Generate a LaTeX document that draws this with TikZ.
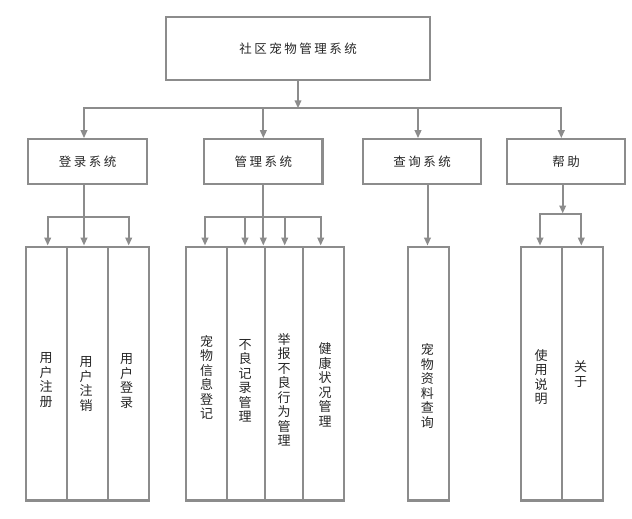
\documentclass[tikz,border=0pt]{standalone}
\usepackage{fontspec}
\newfontfamily\cjk{Noto Sans CJK SC}
\newfontfamily\cjksp[LetterSpace=20]{Noto Sans CJK SC}
\usetikzlibrary{arrows.meta}
\definecolor{lc}{HTML}{8C8C8C}
\definecolor{tc}{HTML}{262626}
\tikzset{
  box/.style={draw=lc, line width=2.2pt, rectangle, inner sep=0pt},
  ttl/.style={font=\cjksp\fontsize{12.5}{14}\selectfont, text=tc},
  vtxt/.style={font=\cjk\fontsize{13}{14.5}\selectfont, text=tc, align=center, inner sep=0pt},
  con/.style={draw=lc, line width=2pt, line cap=rect},
  arr/.style={con, -{Triangle[width=6.5pt,length=8pt]}},
}
\begin{document}
\begin{tikzpicture}[x=1pt,y=-1pt]
\useasboundingbox (0,0) rectangle (632,519);
% top
\node[box, ttl, minimum width=264.6pt, minimum height=62.7pt] (top) at (298,48.65) {社区宠物管理系统};
% level 2
\node[box, ttl, minimum width=118.3pt, minimum height=44.7pt] (l1) at (87.5,161.65) {登录系统};
\node[box, ttl, minimum width=118.3pt, minimum height=44.7pt] (l2) at (263.35,161.65) {管理系统};
\node[box, ttl, minimum width=118.3pt, minimum height=44.7pt] (l3) at (422.15,161.65) {查询系统};
\node[box, ttl, minimum width=118.3pt, minimum height=44.7pt] (l4) at (566.15,161.65) {帮助};
% level 3 boxes
\node[box, minimum width=41pt, minimum height=253.8pt] (c11) at (46.8,373.6) {};
\node[box, minimum width=40.4pt, minimum height=253.8pt] (c12) at (87.5,373.6) {};
\node[box, minimum width=41pt, minimum height=253.8pt] (c13) at (128.2,373.6) {};
\node[box, minimum width=41.3pt, minimum height=253.8pt] (c21) at (206.65,373.6) {};
\node[box, minimum width=37.7pt, minimum height=253.8pt] (c22) at (246.15,373.6) {};
\node[box, minimum width=38.3pt, minimum height=253.8pt] (c23) at (284.15,373.6) {};
\node[box, minimum width=41pt, minimum height=253.8pt] (c24) at (323.8,373.6) {};
\node[box, minimum width=41pt, minimum height=253.8pt] (c31) at (428.2,373.6) {};
\node[box, minimum width=40.7pt, minimum height=253.8pt] (c41) at (541.35,373.6) {};
\node[box, minimum width=41.6pt, minimum height=253.8pt] (c42) at (582.5,373.6) {};
% level 3 texts
\node[vtxt] (t11) at (46,380) {用\\户\\注\\册};
\node[vtxt] (t12) at (86,384) {用\\户\\注\\销};
\node[vtxt] (t13) at (126.7,381) {用\\户\\登\\录};
\node[vtxt] (t21) at (206.7,377.5) {宠\\物\\信\\息\\登\\记};
\node[vtxt] (t22) at (245,381) {不\\良\\记\\录\\管\\理};
\node[vtxt] (t23) at (284,390) {举\\报\\不\\良\\行\\为\\管\\理};
\node[vtxt] (t24) at (325,385) {健\\康\\状\\况\\管\\理};
\node[vtxt] (t31) at (427.3,386) {宠\\物\\资\\料\\查\\询};
\node[vtxt] (t41) at (541,377) {使\\用\\说\\明};
\node[vtxt] (t42) at (580.7,374) {关\\于};
% top -> level 2
\coordinate (hub) at (298,108.3);
\coordinate (b1) at (84,108.3);
\coordinate (b2) at (263.35,108.3);
\coordinate (b3) at (418,108.3);
\coordinate (b4) at (561.3,108.3);
\draw[arr] (top) -- (hub);
\draw[con] (b1) -- (b4);
\draw[arr] (b1) -- (b1 |- l1.north);
\draw[arr] (b2) -- (l2.north);
\draw[arr] (b3) -- (b3 |- l3.north);
\draw[arr] (b4) -- (b4 |- l4.north);
% login subtree
\coordinate (j1) at (84,216.7);
\coordinate (j1a) at (47.7,216.7);
\coordinate (j1b) at (128.7,216.7);
\draw[arr] (j1 |- l1.south) -- (j1 |- c12.north);
\draw[con] (j1a) -- (j1b);
\draw[arr] (j1a) -- (j1a |- c11.north);
\draw[arr] (j1b) -- (j1b |- c13.north);
% management subtree
\coordinate (j2) at (263.3,216.7);
\coordinate (j2a) at (205,216.7);
\coordinate (j2b) at (245,216.7);
\coordinate (j2c) at (284.7,216.7);
\coordinate (j2d) at (320.7,216.7);
\draw[arr] (j2 |- l2.south) -- (j2 |- c23.north);
\draw[con] (j2a) -- (j2d);
\draw[arr] (j2a) -- (j2a |- c21.north);
\draw[arr] (j2b) -- (j2b |- c22.north);
\draw[arr] (j2c) -- (j2c |- c23.north);
\draw[arr] (j2d) -- (j2d |- c24.north);
% query subtree
\coordinate (j3) at (427.5,216.7);
\draw[arr] (j3 |- l3.south) -- (j3 |- c31.north);
% help subtree
\coordinate (j4) at (562.7,213.5);
\coordinate (j4a) at (540,213.5);
\coordinate (j4b) at (581.3,213.5);
\draw[arr] (j4 |- l4.south) -- (j4);
\draw[con] (j4a) -- (j4b);
\draw[arr] (j4a) -- (j4a |- c41.north);
\draw[arr] (j4b) -- (j4b |- c42.north);
\end{tikzpicture}
\end{document}
